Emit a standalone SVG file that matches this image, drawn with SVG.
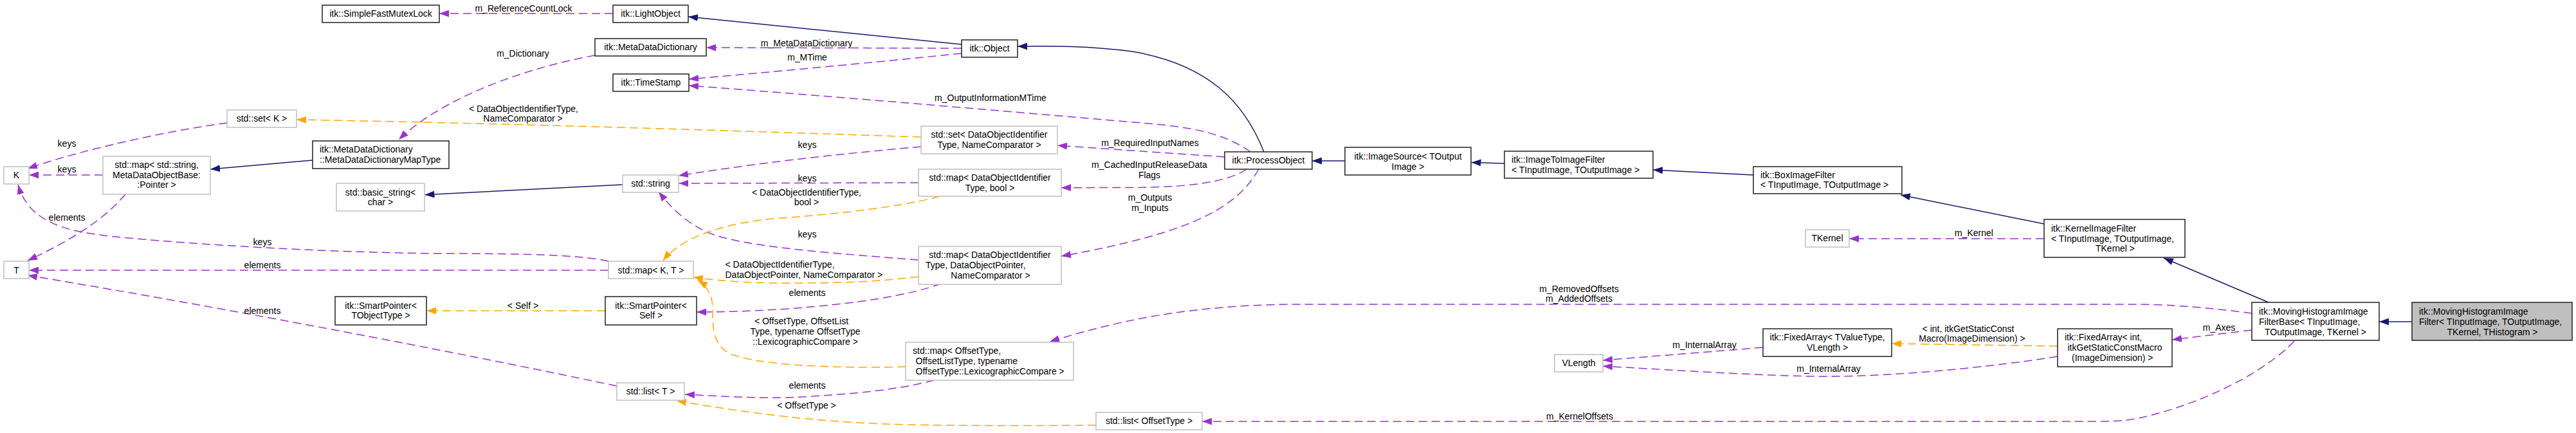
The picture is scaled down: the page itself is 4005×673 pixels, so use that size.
<svg xmlns="http://www.w3.org/2000/svg" width="4005" height="673" viewBox="0 0 4005 673">
<style>
text{font-family:"Liberation Sans",Arial,sans-serif;font-size:14px;fill:#000}
.c{text-anchor:middle}
.doc{fill:#fff;stroke:#202020;stroke-width:1.5}
.und{fill:#fff;stroke:#bfbfbf;stroke-width:1.5}
.cur{fill:#bfbfbf;stroke:#202020;stroke-width:1.5}
.inh{fill:none;stroke:#191970;stroke-width:1.5;marker-end:url(#mb)}
.use{fill:none;stroke:#9a32cd;stroke-width:1.5;stroke-dasharray:13,7;marker-end:url(#mp)}
.tpl{fill:none;stroke:#ffa500;stroke-width:1.5;stroke-dasharray:13,7;marker-end:url(#mo)}
</style>
<defs>
<marker id="mb" markerUnits="userSpaceOnUse" viewBox="0 0 15 11" refX="15" refY="5.5" markerWidth="15" markerHeight="11" orient="auto"><path d="M0,0L15,5.5L0,11z" fill="#191970"/></marker>
<marker id="mp" markerUnits="userSpaceOnUse" viewBox="0 0 15 11" refX="15" refY="5.5" markerWidth="15" markerHeight="11" orient="auto"><path d="M0,0L15,5.5L0,11z" fill="#9a32cd"/></marker>
<marker id="mo" markerUnits="userSpaceOnUse" viewBox="0 0 15 11" refX="15" refY="5.5" markerWidth="15" markerHeight="11" orient="auto"><path d="M0,0L15,5.5L0,11z" fill="#ffa500"/></marker>
</defs>
<rect width="4005" height="673" fill="#fff"/>
<g id="connectors">
<path class="inh" d="M1965,236 C1935,160 1880,100 1760,80 C1680,70 1620,72 1582,72"/>
<path class="inh" d="M1495,69 L1070,26"/>
<path class="inh" d="M486,249 L327,263"/>
<path class="inh" d="M968,287 L660.5,302.7"/>
<path class="inh" d="M2091,250 L2040,250"/>
<path class="inh" d="M2339,254 L2287.5,252.5"/>
<path class="inh" d="M2726,272 L2570,264"/>
<path class="inh" d="M3178,348 L2955,303"/>
<path class="inh" d="M3527,470 L3364,401"/>
<path class="inh" d="M3750,500 L3699,500"/>

<path class="use" d="M953,21 L683,21"/>
<text class="c" x="814" y="18">m_ReferenceCountLock</text>
<path class="use" d="M1495,75 L1098,74"/>
<text class="c" x="1254" y="72">m_MetaDataDictionary</text>
<path class="use" d="M1495,83 C1400,93 1200,112 1071,123"/>
<text class="c" x="1255" y="94">m_MTime</text>
<path class="use" d="M1944,236 C1910,212 1870,200 1797,193 C1600,176 1300,150 1071,133"/>
<text class="c" x="1540" y="157">m_OutputInformationMTime</text>
<path class="use" d="M1904,244 L1644,226"/>
<text class="c" x="1788" y="227">m_RequiredInputNames</text>
<path class="use" d="M1938,263 C1905,285 1840,291 1760,291.5 L1650,291.7"/>
<text class="c" x="1787" y="261">m_CachedInputReleaseData</text>
<text class="c" x="1787" y="277">Flags</text>
<path class="use" d="M1957,263 C1925,320 1860,350 1760,375 C1720,385 1680,393 1650,398"/>
<text class="c" x="1788" y="312">m_Outputs</text>
<text class="c" x="1788" y="328">m_Inputs</text>
<path class="use" d="M925,86 C820,105 690,150 620,217"/>
<text class="c" x="813" y="88">m_Dictionary</text>
<path class="use" d="M353,191 C250,205 120,235 43,262"/>
<text class="c" x="104" y="228">keys</text>
<path class="use" d="M160,272 L45,272"/>
<text class="c" x="104" y="268">keys</text>
<path class="use" d="M195,302 C175,325 140,360 43,405"/>
<text class="c" x="104" y="343">elements</text>
<path class="use" d="M946,406 C910,398 850,394 680,394 C500,392 300,380 180,368 C100,360 45,345 28,287"/>
<text class="c" x="408" y="381">keys</text>
<path class="use" d="M946,420 L45,420"/>
<text class="c" x="408" y="417">elements</text>
<path class="use" d="M959,600 C700,545 300,470 43,428"/>
<text class="c" x="408" y="488">elements</text>
<path class="use" d="M1432,228 C1320,238 1200,250 1055,273"/>
<text class="c" x="1255" y="230">keys</text>
<path class="use" d="M1428,284 L1055.5,285"/>
<text class="c" x="1255" y="282">keys</text>
<path class="use" d="M1428,404 C1300,394 1170,385 1110,365 C1070,350 1045,325 1024,298"/>
<text class="c" x="1255" y="369">keys</text>
<path class="use" d="M1463,441 C1410,460 1330,472 1224,480 C1160,484 1120,485 1083,485"/>
<text class="c" x="1255" y="460">elements</text>
<path class="use" d="M1452,591 C1400,605 1330,613 1224,618 C1160,619 1110,615 1065,613"/>
<text class="c" x="1255" y="604">elements</text>
<path class="use" d="M3501,487 C3450,480 3380,473 3320,473 L2000,473 C1850,476 1750,495 1632,531"/>
<text class="c" x="2455" y="454">m_RemovedOffsets</text>
<text class="c" x="2455" y="469">m_AddedOffsets</text>
<path class="use" d="M3567,530 C3520,580 3420,630 3320,651 C3300,654 3290,655 3250,655 L1869,655"/>
<text class="c" x="2456" y="652">m_KernelOffsets</text>
<path class="use" d="M3501,513 L3377,528"/>
<text class="c" x="3450" y="514">m_Axes</text>
<path class="use" d="M2741,540 L2492,560"/>
<text class="c" x="2650" y="541">m_InternalArray</text>
<path class="use" d="M3199,554 C3100,570 2950,585 2840,585 C2750,585 2600,575 2492,569"/>
<text class="c" x="2843" y="578">m_InternalArray</text>
<path class="use" d="M3178,371 L2875,371"/>
<text class="c" x="3069" y="367">m_Kernel</text>

<path class="tpl" d="M1432,213 C1100,202 800,192 461,186"/>
<text class="c" x="814" y="174">&lt; DataObjectIdentifierType,</text>
<text class="c" x="813" y="189">NameComparator &gt;</text>
<path class="tpl" d="M1461,305 C1400,322 1300,333 1200,340 C1100,350 1050,380 1031,405"/>
<text class="c" x="1254" y="304">&lt; DataObjectIdentifierType,</text>
<text class="c" x="1254" y="319">bool &gt;</text>
<path class="tpl" d="M1428,430 C1380,436 1330,440 1224,440 C1150,440 1110,435 1078,431"/>
<text x="1127.5" y="416">&lt; DataObjectIdentifierType,</text>
<text x="1127.5" y="432">DataObjectPointer, NameComparator &gt;</text>
<path class="tpl" d="M1408,570 C1300,573 1180,568 1135,550 C1108,535 1108,510 1108,480 C1108,460 1100,445 1085,436"/>
<text class="c" x="1246" y="504">&lt; OffsetType, OffsetList</text>
<text class="c" x="1252" y="520">Type, typename OffsetType</text>
<text class="c" x="1252" y="536">::LexicographicCompare &gt;</text>
<path class="tpl" d="M941,483 L663,483"/>
<text class="c" x="813" y="480">&lt; Self &gt;</text>
<path class="tpl" d="M1704,661 C1550,662 1400,662 1320,656 C1220,650 1130,636 1052,623"/>
<text class="c" x="1254" y="635">&lt; OffsetType &gt;</text>
<path class="tpl" d="M3199,538 L2941,534"/>
<text class="c" x="3060" y="516">&lt; int, itkGetStaticConst</text>
<text class="c" x="3066" y="531">Macro(ImageDimension) &gt;</text>
</g>

<g id="n_SimpleFastMutexLock"><rect class="doc" x="501" y="8" width="182" height="27"/><text class="c" x="592" y="26">itk::SimpleFastMutexLock</text></g>
<g id="n_LightObject"><rect class="doc" x="953" y="8" width="117" height="27"/><text class="c" x="1011.5" y="26">itk::LightObject</text></g>
<g id="n_MetaDataDictionary"><rect class="doc" x="925" y="60" width="173" height="27"/><text class="c" x="1011.5" y="78">itk::MetaDataDictionary</text></g>
<g id="n_TimeStamp"><rect class="doc" x="953" y="115" width="118" height="27"/><text class="c" x="1012" y="133">itk::TimeStamp</text></g>
<g id="n_Object"><rect class="doc" x="1495" y="62" width="87" height="27"/><text class="c" x="1538.5" y="80">itk::Object</text></g>
<g id="n_setK"><rect class="und" x="353" y="171" width="108" height="27"/><text class="c" x="407" y="189">std::set&lt; K &gt;</text></g>
<g id="n_MapType"><rect class="doc" x="486" y="219" width="212" height="43"/><text x="497" y="237">itk::MetaDataDictionary</text><text x="497" y="253">::MetaDataDictionaryMapType</text></g>
<g id="n_K"><rect class="und" x="6" y="259" width="39" height="27"/><text class="c" x="25.5" y="277">K</text></g>
<g id="n_mapString"><rect class="und" x="160" y="243" width="167" height="59"/><text class="c" x="243.5" y="261">std::map&lt; std::string,</text><text class="c" x="243.5" y="277">MetaDataObjectBase:</text><text class="c" x="243.5" y="292">:Pointer &gt;</text></g>
<g id="n_basic_string"><rect class="und" x="523" y="285" width="137" height="43"/><text class="c" x="591.5" y="304">std::basic_string&lt;</text><text class="c" x="591.5" y="319">char &gt;</text></g>
<g id="n_string"><rect class="und" x="968" y="272" width="87" height="27"/><text class="c" x="1011.5" y="290">std::string</text></g>
<g id="n_T"><rect class="und" x="6" y="406" width="39" height="27"/><text class="c" x="25.5" y="424.5">T</text></g>
<g id="n_mapKT"><rect class="und" x="946" y="406" width="132" height="27"/><text class="c" x="1012" y="424.5">std::map&lt; K, T &gt;</text></g>
<g id="n_SmartPointerT"><rect class="doc" x="521" y="461" width="142" height="44"/><text class="c" x="592" y="480">itk::SmartPointer&lt;</text><text class="c" x="592" y="495">TObjectType &gt;</text></g>
<g id="n_SmartPointerSelf"><rect class="doc" x="941" y="461" width="142" height="44"/><text class="c" x="1012" y="480">itk::SmartPointer&lt;</text><text class="c" x="1012" y="495">Self &gt;</text></g>
<g id="n_listT"><rect class="und" x="959" y="595" width="105" height="27"/><text class="c" x="1011.5" y="613">std::list&lt; T &gt;</text></g>
<g id="n_setDOIT"><rect class="und" x="1432" y="196" width="212" height="43"/><text class="c" x="1538" y="214">std::set&lt; DataObjectIdentifier</text><text class="c" x="1538" y="230">Type, NameComparator &gt;</text></g>
<g id="n_mapDOITbool"><rect class="und" x="1428" y="263" width="222" height="42"/><text class="c" x="1539" y="281">std::map&lt; DataObjectIdentifier</text><text class="c" x="1539" y="297">Type, bool &gt;</text></g>
<g id="n_ProcessObject"><rect class="doc" x="1904" y="236" width="136" height="27"/><text class="c" x="1972" y="254">itk::ProcessObject</text></g>
<g id="n_mapDOITDOP"><rect class="und" x="1428" y="383" width="222" height="59"/><text class="c" x="1539" y="401">std::map&lt; DataObjectIdentifier</text><text x="1439" y="417">Type, DataObjectPointer,</text><text class="c" x="1540" y="433">NameComparator &gt;</text></g>
<g id="n_mapOffset"><rect class="und" x="1408" y="532" width="261" height="59"/><text x="1419" y="550">std::map&lt; OffsetType,</text><text x="1423.5" y="566">OffsetListType, typename</text><text x="1423.5" y="582">OffsetType::LexicographicCompare &gt;</text></g>
<g id="n_listOffset"><rect class="und" x="1704" y="641" width="165" height="27"/><text class="c" x="1786.5" y="659">std::list&lt; OffsetType &gt;</text></g>
<g id="n_ImageSource"><rect class="doc" x="2091" y="229" width="196" height="43"/><text class="c" x="2189" y="248">itk::ImageSource&lt; TOutput</text><text class="c" x="2189" y="264">Image &gt;</text></g>
<g id="n_ImageToImageFilter"><rect class="doc" x="2339" y="235" width="231" height="42"/><text x="2350" y="253">itk::ImageToImageFilter</text><text x="2350" y="269">&lt; TInputImage, TOutputImage &gt;</text></g>
<g id="n_BoxImageFilter"><rect class="doc" x="2726" y="259" width="231" height="42"/><text x="2737" y="277">itk::BoxImageFilter</text><text x="2737" y="292">&lt; TInputImage, TOutputImage &gt;</text></g>
<g id="n_VLength"><rect class="und" x="2417" y="551" width="75" height="27"/><text class="c" x="2454.5" y="569">VLength</text></g>
<g id="n_TKernel"><rect class="und" x="2807" y="357" width="68" height="27"/><text class="c" x="2841" y="375">TKernel</text></g>
<g id="n_KernelImageFilter"><rect class="doc" x="3178" y="341" width="219" height="59"/><text x="3189" y="360">itk::KernelImageFilter</text><text x="3189" y="376">&lt; TInputImage, TOutputImage,</text><text class="c" x="3288.5" y="391">TKernel &gt;</text></g>
<g id="n_FixedArrayTV"><rect class="doc" x="2741" y="511" width="200" height="43"/><text class="c" x="2841" y="529">itk::FixedArray&lt; TValueType,</text><text class="c" x="2841" y="545">VLength &gt;</text></g>
<g id="n_FixedArrayInt"><rect class="doc" x="3199" y="511" width="178" height="59"/><text x="3210" y="529">itk::FixedArray&lt; int,</text><text x="3214.5" y="545">itkGetStaticConstMacro</text><text x="3221" y="561">(ImageDimension) &gt;</text></g>
<g id="n_MHIFBase"><rect class="doc" x="3501" y="470" width="198" height="59"/><text x="3512" y="489">itk::MovingHistogramImage</text><text x="3512" y="505">FilterBase&lt; TInputImage,</text><text class="c" x="3600" y="521">TOutputImage, TKernel &gt;</text></g>
<g id="n_MHIF"><rect class="cur" x="3750" y="470" width="249" height="59"/><text x="3761" y="489">itk::MovingHistogramImage</text><text x="3761" y="505">Filter&lt; TInputImage, TOutputImage,</text><text class="c" x="3875" y="521">TKernel, THistogram &gt;</text></g>
</svg>
